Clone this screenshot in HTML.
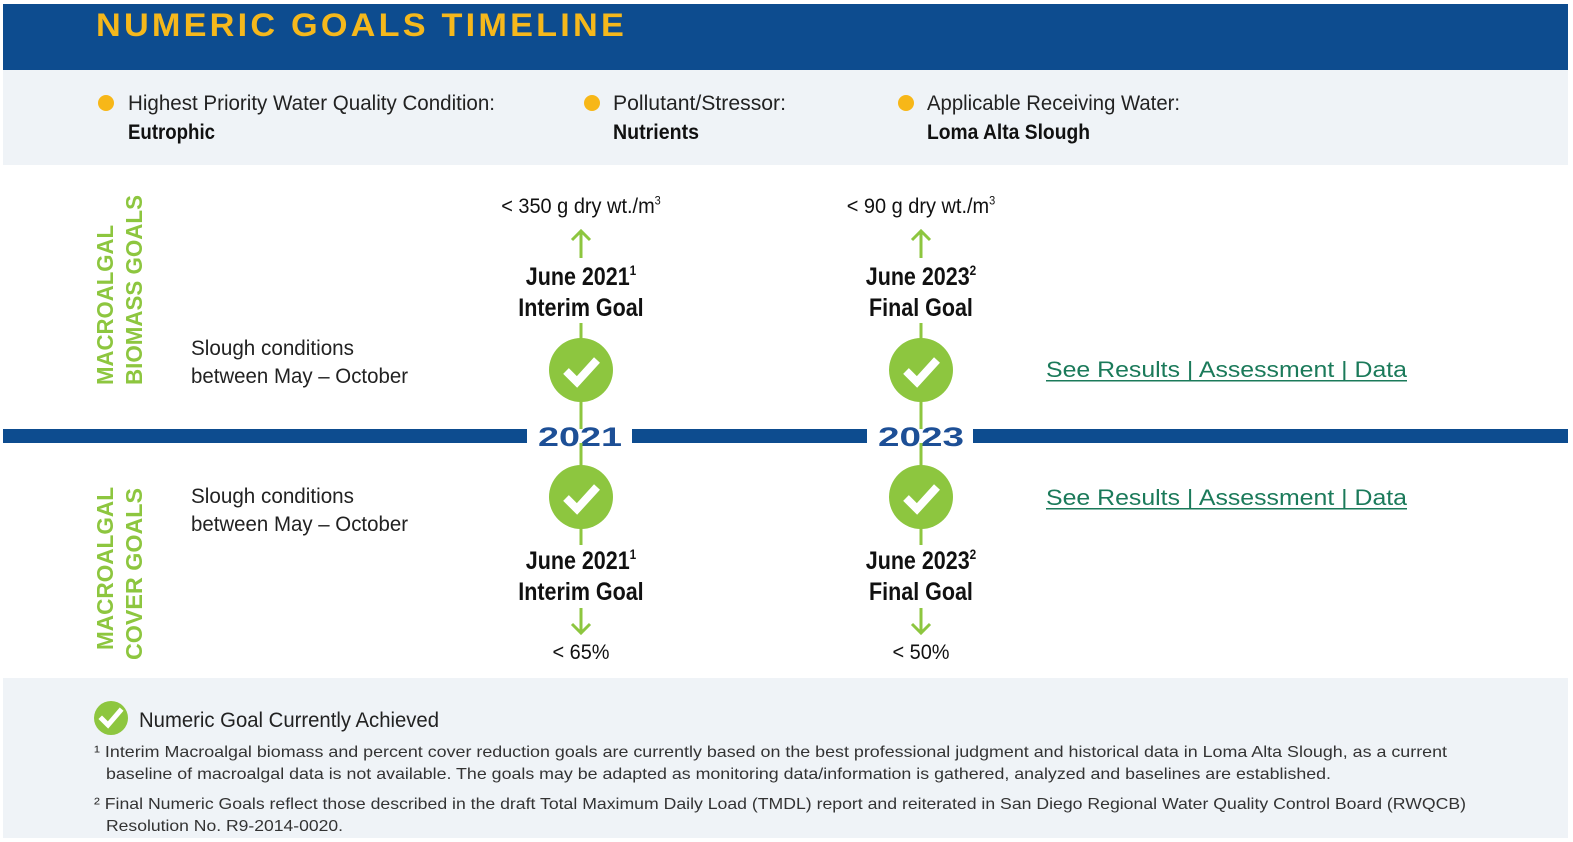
<!DOCTYPE html>
<html><head><meta charset="utf-8"><style>
html,body{margin:0;padding:0;background:#fff;}
svg{display:block;font-family:"Liberation Sans",sans-serif;}
</style></head><body>
<svg width="1573" height="842" viewBox="0 0 1573 842">
<rect x="0" y="0" width="1573" height="842" fill="#fff"/>
<rect x="3" y="4" width="1565" height="66" fill="#0d4c8f"/>
<text x="96" y="36" font-size="32" font-weight="bold" fill="#f5b81c" letter-spacing="3" textLength="531" lengthAdjust="spacingAndGlyphs">NUMERIC GOALS TIMELINE</text>
<rect x="3" y="70" width="1565" height="95" fill="#eff3f7"/>
<g font-size="21" fill="#222">
<circle cx="106" cy="103" r="8" fill="#f7b718"/>
<text x="128" y="110" textLength="367" lengthAdjust="spacingAndGlyphs">Highest Priority Water Quality Condition:</text>
<text x="128" y="139" font-weight="bold" fill="#111" textLength="87" lengthAdjust="spacingAndGlyphs">Eutrophic</text>
<circle cx="592" cy="103" r="8" fill="#f7b718"/>
<text x="613" y="110" textLength="173" lengthAdjust="spacingAndGlyphs">Pollutant/Stressor:</text>
<text x="613" y="139" font-weight="bold" fill="#111" textLength="86" lengthAdjust="spacingAndGlyphs">Nutrients</text>
<circle cx="906" cy="103" r="8" fill="#f7b718"/>
<text x="927" y="110" textLength="253" lengthAdjust="spacingAndGlyphs">Applicable Receiving Water:</text>
<text x="927" y="139" font-weight="bold" fill="#111" textLength="163" lengthAdjust="spacingAndGlyphs">Loma Alta Slough</text>
</g>

<g font-size="23" font-weight="bold" fill="#8dc63f">
<text transform="translate(113,385) rotate(-90)" textLength="160" lengthAdjust="spacingAndGlyphs">MACROALGAL</text>
<text transform="translate(142,385) rotate(-90)" textLength="190" lengthAdjust="spacingAndGlyphs">BIOMASS GOALS</text>
<text transform="translate(113,650) rotate(-90)" textLength="163" lengthAdjust="spacingAndGlyphs">MACROALGAL</text>
<text transform="translate(142,660) rotate(-90)" textLength="172" lengthAdjust="spacingAndGlyphs">COVER GOALS</text>
</g>

<g font-size="21" fill="#222">
<text x="191" y="355" textLength="163" lengthAdjust="spacingAndGlyphs">Slough conditions</text>
<text x="191" y="383" textLength="217" lengthAdjust="spacingAndGlyphs">between May – October</text>
<text x="191" y="503" textLength="163" lengthAdjust="spacingAndGlyphs">Slough conditions</text>
<text x="191" y="531" textLength="217" lengthAdjust="spacingAndGlyphs">between May – October</text>
</g>

<g fill="#0d4c8f">
<rect x="3" y="429" width="524" height="14"/>
<rect x="632" y="429" width="235" height="14"/>
<rect x="973" y="429" width="595" height="14"/>
</g>
<g font-size="27" font-weight="bold" fill="#1d4f96">
<text x="538" y="446" textLength="84" lengthAdjust="spacingAndGlyphs">2021</text>
<text x="878" y="446" textLength="86" lengthAdjust="spacingAndGlyphs">2023</text>
</g>

<g id="milestones"></g>

<g font-size="22" fill="#1b7a5a">
<text x="1046" y="377" textLength="361" lengthAdjust="spacingAndGlyphs">See Results | Assessment | Data</text>
<text x="1046" y="505" textLength="361" lengthAdjust="spacingAndGlyphs">See Results | Assessment | Data</text>
</g>
<rect x="1046" y="380" width="361" height="1.5" fill="#1b7a5a"/>
<rect x="1046" y="508" width="361" height="1.5" fill="#1b7a5a"/>

<rect x="3" y="678" width="1565" height="160" fill="#eff3f7"/>
<g>
<circle cx="111" cy="718" r="17" fill="#8dc63f"/>
<path d="M102 719 L108 725 L120 711" stroke="#fff" stroke-width="5" fill="none" stroke-linecap="square"/>
</g>
<text x="139" y="727" font-size="21" fill="#222" textLength="300" lengthAdjust="spacingAndGlyphs">Numeric Goal Currently Achieved</text>
<g font-size="16" fill="#333">
<text x="94" y="757" textLength="1353" lengthAdjust="spacingAndGlyphs">¹ Interim Macroalgal biomass and percent cover reduction goals are currently based on the best professional judgment and historical data in Loma Alta Slough, as a current</text>
<text x="106" y="779" textLength="1225" lengthAdjust="spacingAndGlyphs">baseline of macroalgal data is not available. The goals may be adapted as monitoring data/information is gathered, analyzed and baselines are established.</text>
<text x="94" y="809" textLength="1372" lengthAdjust="spacingAndGlyphs">² Final Numeric Goals reflect those described in the draft Total Maximum Daily Load (TMDL) report and reiterated in San Diego Regional Water Quality Control Board (RWQCB)</text>
<text x="106" y="831" textLength="237" lengthAdjust="spacingAndGlyphs">Resolution No. R9-2014-0020.</text>
</g>
</svg>
<script>
const goalX = [581, 921];
const goalDates = ['June 2021', 'June 2023'];
const goalSup = ['1', '2'];
const goalTypes = ['Interim Goal', 'Final Goal'];
const biomassTargets = ['< 350 g dry wt./m', '< 90 g dry wt./m'];
const coverTargets = ['< 65%', '< 50%'];
const NS = 'http://www.w3.org/2000/svg';
const g = document.getElementById('milestones');
function mk(tag, attrs, parent) {
  const e = document.createElementNS(NS, tag);
  for (const k in attrs) e.setAttribute(k, attrs[k]);
  (parent || g).appendChild(e);
  return e;
}
function check(cx, cy, name) {
  const grp = mk('g', {});
  
  
  mk('circle', {cx: cx, cy: cy, r: 32, fill: '#8dc63f'}, grp);
  mk('path', {d: `M${cx-15} ${cy+1} L${cx-4} ${cy+12} L${cx+16} ${cy-10}`, stroke: '#fff', 'stroke-width': 8, fill: 'none'}, grp);
}
function label(x, y, txt, sup, size, bold, name) {
  const t = mk('text', {x: x, y: y, 'text-anchor': 'middle', 'font-size': size, fill: '#111', 'font-weight': bold ? 'bold' : 'normal'});
  
  
  t.textContent = txt;
  if (sup) { const s = mk('tspan', {'font-size': size * 0.55, dy: -size * 0.4}, t); s.textContent = sup; }
  const sc = bold ? 0.86 : 0.95;
  t.setAttribute('transform', `translate(${x} 0) scale(${sc} 1) translate(${-x} 0)`);
}
const green = '#8dc63f';
goalX.forEach((x, i) => {
  label(x, 213, biomassTargets[i], '3', 21, false, 'biomass-target-' + i);
  mk('line', {x1: x, y1: 232, x2: x, y2: 258, stroke: green, 'stroke-width': 3});
  mk('path', {d: `M${x-9} ${240} L${x} ${231} L${x+9} ${240}`, stroke: green, 'stroke-width': 3, fill: 'none'});
  label(x, 285, goalDates[i], goalSup[i], 25, true, 'biomass-date-' + i);
  label(x, 316, goalTypes[i], '', 25, true, 'biomass-type-' + i);
  mk('line', {x1: x, y1: 323, x2: x, y2: 429, stroke: green, 'stroke-width': 3});
  check(x, 370, 'biomass-check-' + i);
  mk('line', {x1: x, y1: 443, x2: x, y2: 545, stroke: green, 'stroke-width': 3});
  check(x, 497, 'cover-check-' + i);
  label(x, 569, goalDates[i], goalSup[i], 25, true, 'cover-date-' + i);
  label(x, 600, goalTypes[i], '', 25, true, 'cover-type-' + i);
  mk('line', {x1: x, y1: 608, x2: x, y2: 633, stroke: green, 'stroke-width': 3});
  mk('path', {d: `M${x-9} ${624} L${x} ${633} L${x+9} ${624}`, stroke: green, 'stroke-width': 3, fill: 'none'});
  label(x, 659, coverTargets[i], '', 21, false, 'cover-target-' + i);
});
</script>
</body></html>
